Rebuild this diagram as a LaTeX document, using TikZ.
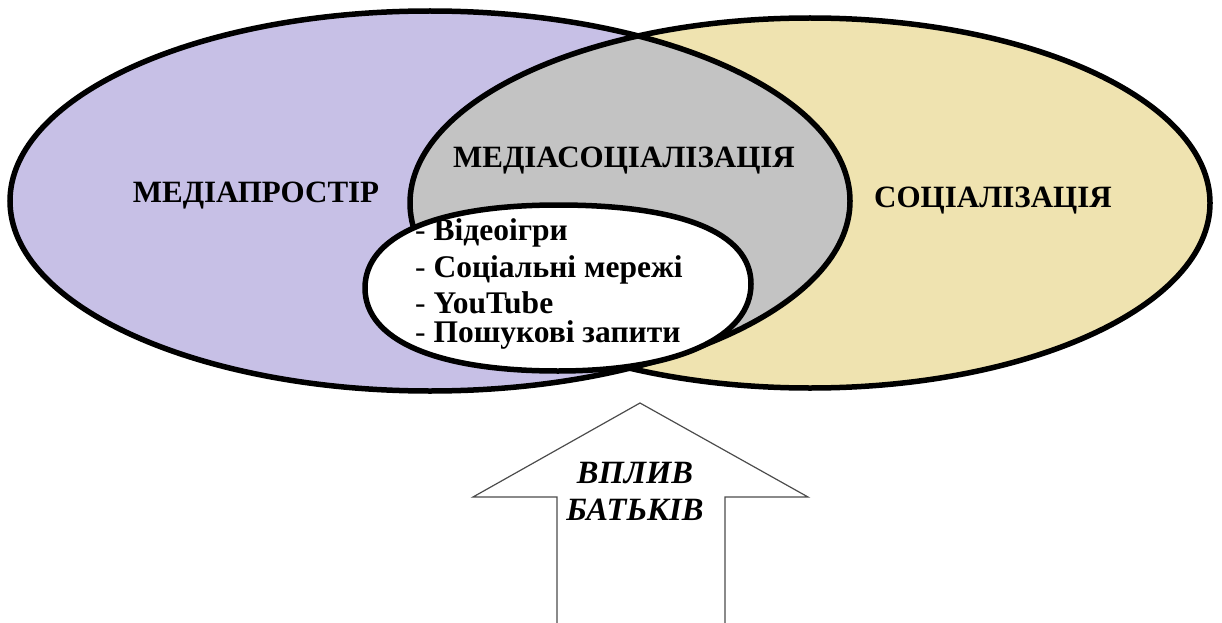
\documentclass[tikz,border=0pt]{standalone}
\usepackage{fontspec}
\setmainfont{Liberation Serif}
\usetikzlibrary{positioning}
\definecolor{mediaviolet}{HTML}{C7C0E6}
\definecolor{socsand}{HTML}{EFE3B0}
\definecolor{overlapgray}{HTML}{C3C3C3}
\tikzset{
    setline/.style={draw=black,line width=5.5pt},
    settitle/.style={font=\bfseries\fontsize{31}{34}\selectfont,inner sep=0pt,anchor=base},
    listitem/.style={font=\fontsize{31.5}{34}\selectfont,inner sep=0pt,anchor=base west},
    arrowline/.style={draw=black!70,line width=1.2pt,line join=miter},
    arrowtext/.style={font=\bfseries\itshape\fontsize{32.5}{36}\selectfont,inner sep=0pt},
}

\begin{document}
\begin{tikzpicture}[x=1pt,y=-1pt]
\useasboundingbox (0,0) rectangle (1222,623);
\coordinate (lc) at (430,201);
\coordinate (rc) at (810,203);
\def\lset{(lc) ellipse [x radius=420pt, y radius=190pt]}
\def\rset{(rc) ellipse [x radius=400pt, y radius=185pt]}
\fill[mediaviolet] \lset;
\fill[socsand] \rset;
\begin{scope}
    \clip \lset;
    \fill[overlapgray] \rset;
\end{scope}
\draw[setline] \lset;
\draw[setline] \rset;
\draw[setline,fill=white] (365,288) .. controls (365,236) and (436,205) .. (558,205)
    .. controls (680,205) and (751,232) .. (751,284)
    .. controls (751,336) and (680,371) .. (558,371)
    .. controls (436,371) and (365,340) .. (365,288) -- cycle;
\node[settitle] (media) at (256,202) {МЕДІАПРОСТІР};
\node[settitle] (mediasoc) at (624,167) {МЕДІАСОЦІАЛІЗАЦІЯ};
\node[settitle] (soc) at (993,207) {СОЦІАЛІЗАЦІЯ};
\node[listitem] (games) at (415,240) {- \textbf{Відеоігри}};
\node[listitem] (networks) at (415,277) {- \textbf{Соціальні мережі}};
\node[listitem] (youtube) at (415,313) {- \textbf{YouTube}};
\node[listitem] (search) at (415,342) {- \textbf{Пошукові запити}};
\draw[arrowline] (557,623) -- (557,497) -- (473,497) -- (640,403)
    -- (808,497) -- (725,497) -- (725,623);
\node[arrowtext] (influence) at (635,473) {ВПЛИВ};
\node[arrowtext, below=15pt of influence] (parents) {БАТЬКІВ};
\end{tikzpicture}
\end{document}
